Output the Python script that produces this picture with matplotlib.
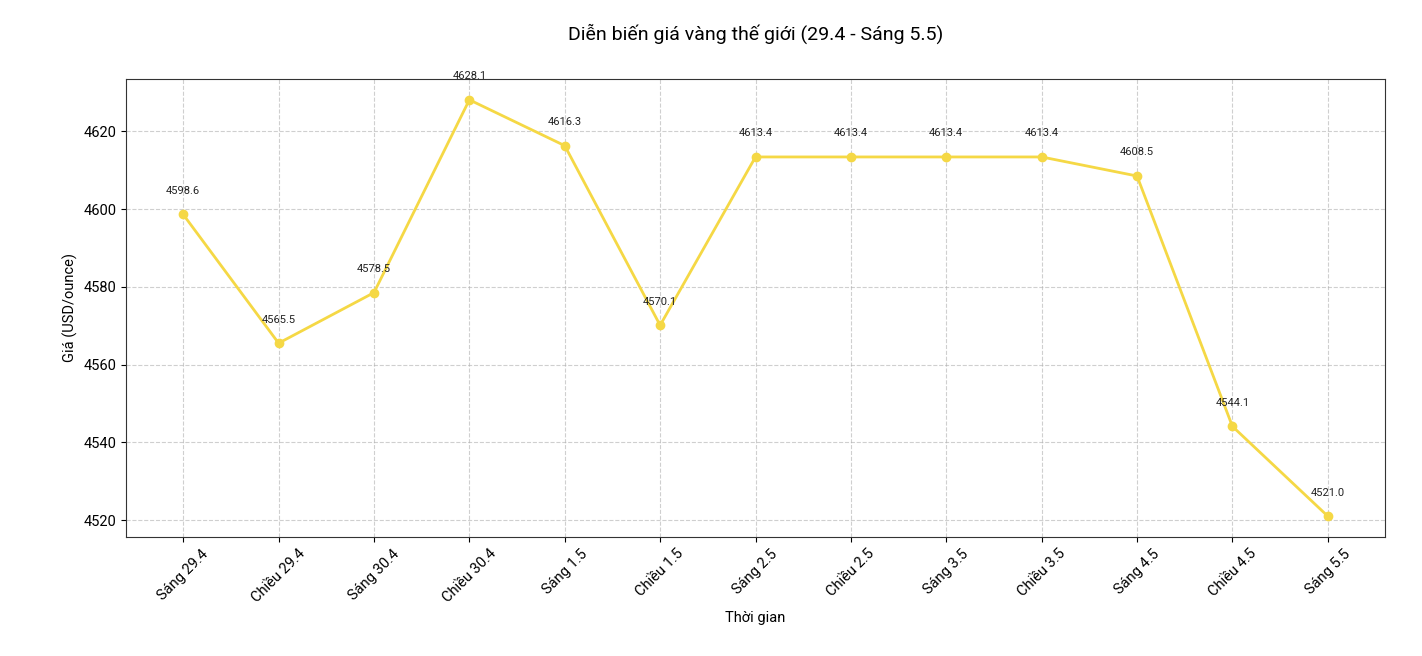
import matplotlib
matplotlib.use("Agg")
import matplotlib.pyplot as plt

plt.rcParams['font.family'] = ['Roboto', 'DejaVu Sans']

time_labels = ['Sáng 29.4', 'Chiều 29.4', 'Sáng 30.4', 'Chiều 30.4', 'Sáng 1.5',
               'Chiều 1.5', 'Sáng 2.5', 'Chiều 2.5', 'Sáng 3.5', 'Chiều 3.5',
               'Sáng 4.5', 'Chiều 4.5', 'Sáng 5.5']
prices = [4598.6, 4565.5, 4578.5, 4628.1, 4616.3, 4570.1, 4613.4,
          4613.4, 4613.4, 4613.4, 4608.5, 4544.1, 4521.0]

fig, ax = plt.subplots(figsize=(14.22, 6.56), dpi=100)
fig.subplots_adjust(left=0.0886, right=0.974, top=0.8796, bottom=0.1814)

x = range(len(time_labels))
ax.plot(x, prices, color='#F5D845', linewidth=2, marker='o', markersize=6)

for xi, p in zip(x, prices):
    ax.annotate(f'{p:.1f}', (xi, p), xytext=(0, 17), textcoords='offset points',
                ha='center', va='center', fontsize=8, color='#222222')

ax.set_xticks(list(x))
ax.set_xticklabels(time_labels, rotation=45, fontsize=10.5)
ax.tick_params(axis='y', labelsize=10.5)
ax.set_title('Diễn biến giá vàng thế giới (29.4 - Sáng 5.5)', fontsize=14, pad=28)
ax.set_xlabel('Thời gian', fontsize=10.5)
ax.set_ylabel('Giá (USD/ounce)', fontsize=10.5)
ax.grid(True, linestyle='--', alpha=0.6)
for s in ax.spines.values():
    s.set_color('#333333')

fig.savefig('out.png', dpi=100)
